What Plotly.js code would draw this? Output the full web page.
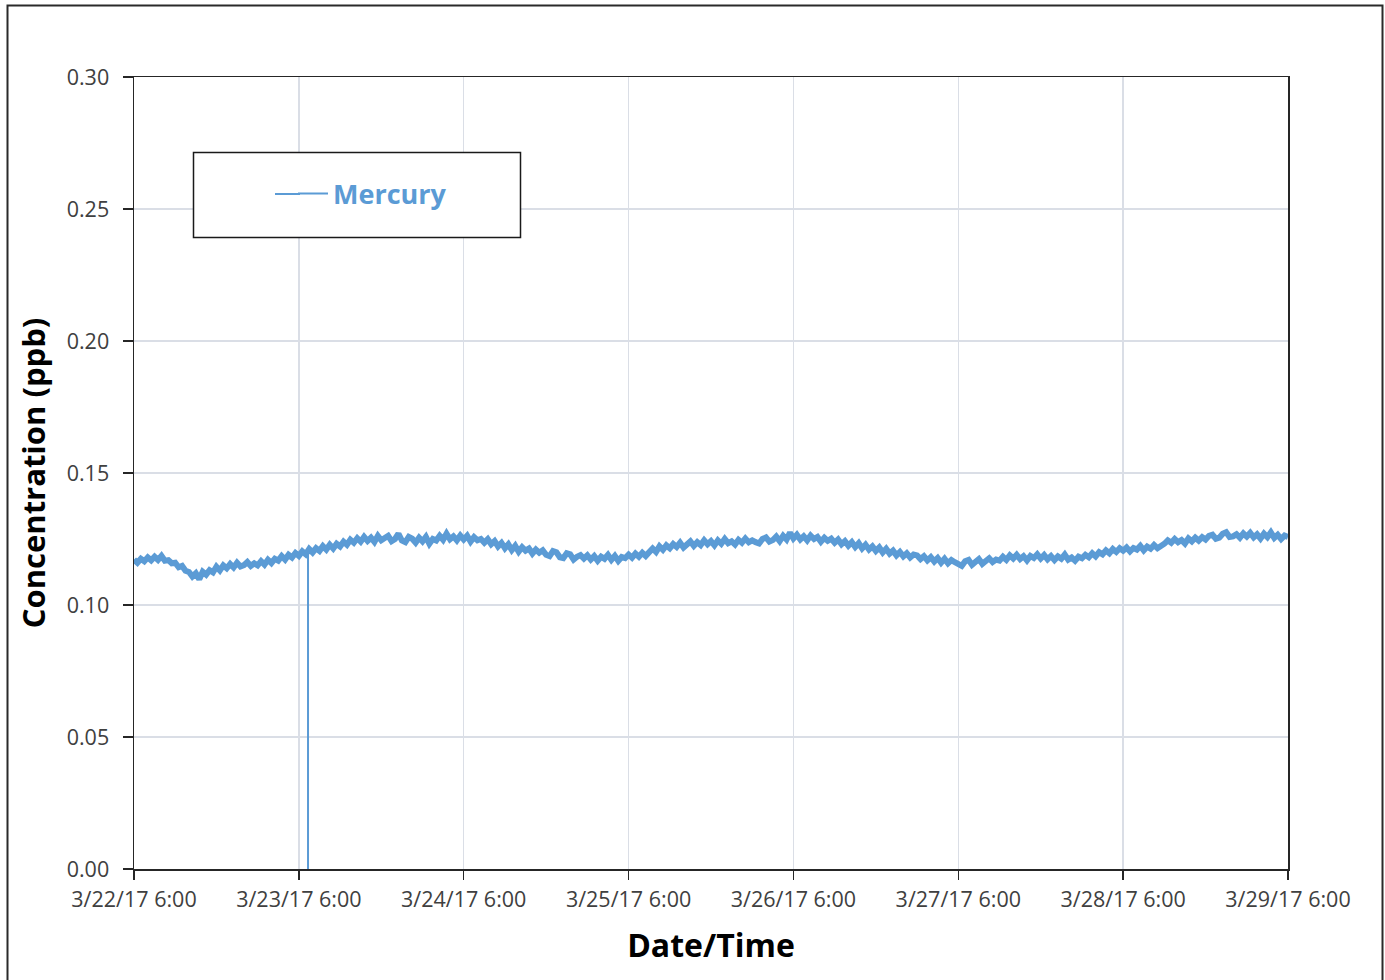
<!DOCTYPE html>
<html>
<head>
<meta charset="utf-8">
<script src="https://cdn.plot.ly/plotly-3.0.1.min.js"></script>
<style>html,body{margin:0;padding:0;background:#fff;}#chart{width:1385px;height:980px;}</style>
</head>
<body>
<div id="chart"></div>
<script>
// Series: Mercury concentration (ppb), one reading every 30 minutes from 3/22/17 6:00
var seriesName = 'Mercury';
var startTime = '2017-03-22T06:00:00Z';
var stepMinutes = 30;
var mercury = [
0.1172,0.1160,0.1175,0.1166,0.1180,0.1169,0.1183,0.1171,0.1186,0.1168,0.1170,0.1158,
0.1160,0.1143,0.1148,0.1130,0.1125,0.1108,0.1120,0.1098,0.1126,0.1115,0.1132,0.1124,
0.1145,0.1131,0.1150,0.1139,0.1155,0.1142,0.1160,0.1146,0.1151,0.1163,0.1148,0.1158,
0.1150,0.1166,0.1153,0.1171,0.1159,0.1175,0.1168,0.1185,0.1172,0.1190,0.1180,0.1197,
0.1186,0.1203,0.1192,0.1212,0.1199,0.1215,0.1205,0.1223,0.1210,0.1228,0.1214,0.1232,
0.1222,0.1240,0.1228,0.1247,0.1236,0.1253,0.1240,0.1258,0.1243,0.1255,0.1239,0.1262,
0.1245,0.1256,0.1262,0.1242,0.1250,0.1270,0.1244,0.1238,0.1258,0.1251,0.1236,0.1255,
0.1241,0.1258,0.1232,0.1250,0.1244,0.1262,0.1247,0.1270,0.1249,0.1260,0.1245,0.1263,
0.1248,0.1262,0.1240,0.1257,0.1245,0.1250,0.1236,0.1249,0.1230,0.1242,0.1222,0.1235,
0.1215,0.1230,0.1208,0.1224,0.1202,0.1219,0.1206,0.1214,0.1195,0.1210,0.1198,0.1207,
0.1190,0.1185,0.1204,0.1200,0.1181,0.1178,0.1196,0.1192,0.1172,0.1183,0.1189,0.1176,
0.1188,0.1172,0.1185,0.1168,0.1183,0.1175,0.1190,0.1171,0.1186,0.1167,0.1182,0.1178,
0.1191,0.1179,0.1195,0.1183,0.1198,0.1186,0.1204,0.1214,0.1201,0.1222,0.1209,0.1226,
0.1215,0.1231,0.1220,0.1236,0.1218,0.1229,0.1241,0.1224,0.1238,0.1227,0.1245,0.1230,
0.1242,0.1226,0.1245,0.1232,0.1250,0.1234,0.1241,0.1229,0.1247,0.1236,0.1252,0.1238,
0.1245,0.1238,0.1233,0.1250,0.1256,0.1240,0.1246,0.1259,0.1242,0.1262,0.1248,0.1274,
0.1252,0.1266,0.1248,0.1260,0.1245,0.1263,0.1250,0.1258,0.1240,0.1255,0.1243,0.1251,
0.1236,0.1248,0.1230,0.1242,0.1225,0.1238,0.1220,0.1234,0.1214,0.1228,0.1210,0.1222,
0.1205,0.1218,0.1199,0.1213,0.1195,0.1206,0.1188,0.1201,0.1184,0.1196,0.1180,0.1191,
0.1188,0.1174,0.1185,0.1169,0.1181,0.1165,0.1178,0.1160,0.1175,0.1158,0.1170,0.1162,
0.1155,0.1148,0.1166,0.1171,0.1152,0.1160,0.1174,0.1156,0.1165,0.1177,0.1163,0.1172,
0.1168,0.1183,0.1171,0.1188,0.1176,0.1190,0.1174,0.1185,0.1169,0.1186,0.1178,0.1192,
0.1176,0.1189,0.1173,0.1185,0.1170,0.1184,0.1175,0.1191,0.1172,0.1180,0.1168,0.1183,
0.1177,0.1190,0.1181,0.1196,0.1184,0.1200,0.1192,0.1207,0.1196,0.1212,0.1201,0.1215,
0.1206,0.1218,0.1203,0.1216,0.1210,0.1224,0.1207,0.1221,0.1213,0.1227,0.1215,0.1222,
0.1232,0.1245,0.1236,0.1250,0.1238,0.1246,0.1233,0.1252,0.1241,0.1255,0.1244,0.1257,
0.1248,0.1262,0.1266,0.1251,0.1255,0.1270,0.1276,0.1258,0.1260,0.1268,0.1255,0.1271,
0.1259,0.1273,0.1256,0.1268,0.1252,0.1270,0.1257,0.1275,0.1254,0.1266,0.1250,0.1263,
0.1258
];
// Instrument dropout: reading falls to zero for one instant
var dropoutTime = '2017-03-23 07:20';
var dropoutTop = 0.1205;
var dropoutValue = 0;

// Axis ticks
var xTickVals = ['2017-03-22 06:00','2017-03-23 06:00','2017-03-24 06:00','2017-03-25 06:00','2017-03-26 06:00','2017-03-27 06:00','2017-03-28 06:00','2017-03-29 06:00'];
var xTickText = ['3/22/17 6:00','3/23/17 6:00','3/24/17 6:00','3/25/17 6:00','3/26/17 6:00','3/27/17 6:00','3/28/17 6:00','3/29/17 6:00'];
var yTickVals = [0, 0.05, 0.10, 0.15, 0.20, 0.25, 0.30];
var yTickText = ['0.00','0.05','0.10','0.15','0.20','0.25','0.30'];

function pad(n){return (n<10?'0':'')+n;}
function fmt(d){return d.getUTCFullYear()+'-'+pad(d.getUTCMonth()+1)+'-'+pad(d.getUTCDate())+' '+pad(d.getUTCHours())+':'+pad(d.getUTCMinutes());}
var t0 = new Date(startTime).getTime();
var xs = [];
for (var i=0;i<mercury.length;i++){ xs.push(fmt(new Date(t0 + i*stepMinutes*60000))); }

var L=134, R=1288, T=77, B=869, W=R-L, H=B-T;
function px(x){return (x-L)/W;}
function py(y){return (B-y)/H;}

var lineColor = '#5b9bd5';
var axisColor = '#262626';
var gridColor = '#dadee6';
var fontFam = '"Open Sans", "Noto Sans", sans-serif';

var data = [
  {type:'scatter', mode:'lines', name: seriesName, legendgroup:'hg', showlegend:false,
   x: xs, y: mercury, line:{color:lineColor, width:6}},
  {type:'scatter', mode:'lines', name: seriesName, legendgroup:'hg', showlegend:true,
   x: [dropoutTime, dropoutTime], y: [dropoutTop, dropoutValue], line:{color:lineColor, width:2}}
];

var layout = {
  width:1385, height:980,
  margin:{l:L, r:1385-R, t:T, b:980-B, pad:0},
  paper_bgcolor:'#ffffff', plot_bgcolor:'#ffffff',
  showlegend:true,
  legend:{x:px(293), y:py(194), xanchor:'left', yanchor:'middle', bgcolor:'rgba(0,0,0,0)', borderwidth:0,
    font:{family:fontFam, size:27, color:lineColor, weight:'bold'}},
  xaxis:{type:'date', range:['2017-03-22 06:00','2017-03-29 06:00'],
    tickmode:'array', tickvals:xTickVals, ticktext:xTickText,
    ticks:'outside', ticklen:9, tickwidth:1.5, tickcolor:axisColor,
    showline:true, linecolor:axisColor, linewidth:1.5, mirror:true,
    showgrid:true, gridcolor:gridColor, gridwidth:1.5, zeroline:false,
    tickfont:{family:fontFam, size:21.5, color:'#404040'}, ticklabelstandoff:2,
    title:{text:'Date/Time', font:{family:fontFam, size:32, color:'#000000', weight:'bold'}, standoff:22}},
  yaxis:{range:[0,0.30], tickmode:'array', tickvals:yTickVals, ticktext:yTickText,
    ticks:'outside', ticklen:10, tickwidth:1.5, tickcolor:axisColor,
    showline:true, linecolor:axisColor, linewidth:1.5, mirror:true,
    showgrid:true, gridcolor:gridColor, gridwidth:1.5, zeroline:false,
    tickfont:{family:fontFam, size:21.5, color:'#404040'}, ticklabelstandoff:9,
    title:{text:'Concentration (ppb)', font:{family:fontFam, size:31, color:'#000000', weight:'bold'}, standoff:12}},
  shapes:[
    {type:'rect', xref:'paper', yref:'paper', x0:px(7.5), x1:px(1382.5), y0:py(995), y1:py(5.5), line:{color:'#2a2a2a', width:2}, fillcolor:'rgba(0,0,0,0)', layer:'below'},
    {type:'rect', xref:'paper', yref:'paper', x0:px(193.5), x1:px(520.5), y0:py(237.5), y1:py(152.5), line:{color:'#1a1a1a', width:1.5}, fillcolor:'#ffffff', layer:'above'},
    {type:'line', xref:'paper', yref:'paper', x0:px(275), x1:px(300), y0:py(194), y1:py(194), line:{color:lineColor, width:2}, layer:'above'}
  ]
};

Plotly.newPlot('chart', data, layout, {displayModeBar:false, staticPlot:true});
</script>
</body>
</html>
